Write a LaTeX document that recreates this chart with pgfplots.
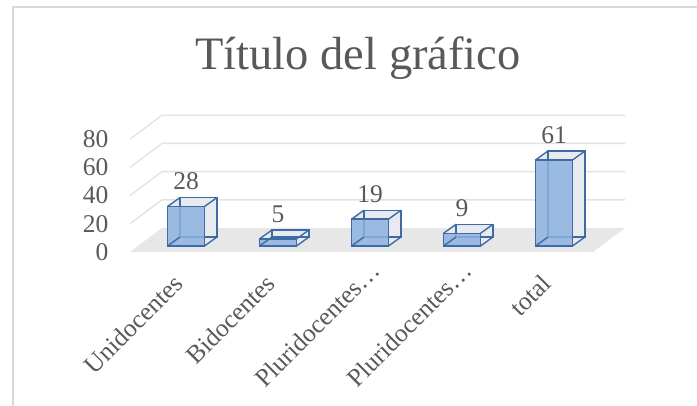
\documentclass[border=0pt]{standalone}
\usepackage{fontspec}
\setmainfont{Liberation Serif}
\usepackage{pgfplots}
\usepackage{pgfplotstable}
\pgfplotsset{compat=1.18}
\definecolor{txtgray}{HTML}{595959}
\definecolor{gridc}{HTML}{E3E3E3}
\definecolor{floorc}{HTML}{E7E7E7}
\definecolor{barfill}{HTML}{8DB2E0}
\definecolor{barline}{HTML}{3E6BA6}
\definecolor{sidec}{HTML}{E8EAEF}
\definecolor{borderc}{HTML}{D9D9D9}
\pgfdeclareplotmark{depth}{\pgfpathmoveto{\pgfpointorigin}\pgfpathlineto{\pgfpoint{12.5bp}{9bp}}\pgfusepathqstroke}
\pgfplotstableread{
x v z
0 28 0
1 5 0
2 19 0
3 9 0
4 61 0
}\data
\newcommand\sweep[2]{\addplot[ybar, bar shift=0pt, bar width=37bp, fill=sidec, draw=none, xshift=#1bp, yshift=#2bp] table[x=x,y=v]{\data};}
\newcommand\edge[2]{\addplot[only marks, mark=depth, mark options={draw=barline, line width=1.4bp}, xshift=#1bp] table[x=x,y=#2]{\data};}
\begin{document}
\begin{tikzpicture}
\path[use as bounding box] (0,0) rectangle (697bp,406bp);
\draw[borderc, line width=1.3bp] (13bp,0) -- (13bp,399bp) -- (697bp,399bp);
\node[anchor=base, text=txtgray, font=\fontsize{46.5bp}{50bp}\selectfont] at (358bp,336bp) {Título del gráfico};
\begin{axis}[
  at={(130.8bp,160bp)}, anchor=south west,
  x=92bp, y=1.41bp,
  xmin=-0.6, xmax=4.6, ymin=0, ymax=80,
  clip=false,
  axis line style={draw=none},
  tick style={draw=none},
  major tick length=0pt,
  xtick={0,1,2,3,4},
  xticklabels={Unidocentes,Bidocentes,{Pluridocentes…\kern-18bp},{Pluridocentes…\kern-18bp},total},
  ytick={0,20,40,60,80},
  /pgf/number format/assume math mode=true,
  ticklabel style={text=txtgray, font=\fontsize{25.5bp}{30bp}\selectfont},
  yticklabel style={anchor=east, xshift=-19bp, yshift=-6bp},
  xticklabel style={rotate=45, anchor=east, xshift=-25bp, yshift=-18bp},
]
% floor
\fill[floorc] ([shift={(-8bp,-6bp)}]axis cs:-0.522,0) -- ([shift={(-8bp,-6bp)}]axis cs:4.511,0)
   -- ([shift={(24bp,18bp)}]axis cs:4.511,0) -- ([shift={(24bp,18bp)}]axis cs:-0.522,0) -- cycle;
% grid lines (back wall and left wall)
\pgfplotsinvokeforeach{20,40,60,80}{
  \draw[gridc, line width=1.4bp] ([shift={(-8bp,-6bp)}]axis cs:-0.522,#1) -- ([shift={(24bp,18bp)}]axis cs:-0.522,#1) -- ([shift={(24bp,18bp)}]axis cs:4.511,#1);
}
% depth sweep (side and top faces)
\sweep{0}{0}\sweep{1.04}{0.75}\sweep{2.08}{1.5}\sweep{3.12}{2.25}\sweep{4.17}{3}
\sweep{5.21}{3.75}\sweep{6.25}{4.5}\sweep{7.29}{5.25}\sweep{8.33}{6}\sweep{9.37}{6.75}
\sweep{10.42}{7.5}\sweep{11.46}{8.25}\sweep{12.5}{9}
% back face outline
\addplot[ybar, bar shift=0pt, bar width=37bp, fill=none, draw=barline, line width=1.4bp,
   xshift=12.5bp, yshift=9bp] table[x=x,y=v]{\data};
% connecting edges
\edge{-18.5}{v}\edge{18.5}{v}\edge{-18.5}{z}\edge{18.5}{z}
% front face
\addplot[ybar, bar shift=0pt, bar width=37bp, fill=barfill, fill opacity=0.85, draw=barline, line width=1.6bp,
   nodes near coords,
   every node near coord/.style={anchor=center, yshift=25bp, text=txtgray, text opacity=1, font=\fontsize{25.5bp}{30bp}\selectfont}
   ] table[x=x,y=v]{\data};
\end{axis}
\end{tikzpicture}
\end{document}
